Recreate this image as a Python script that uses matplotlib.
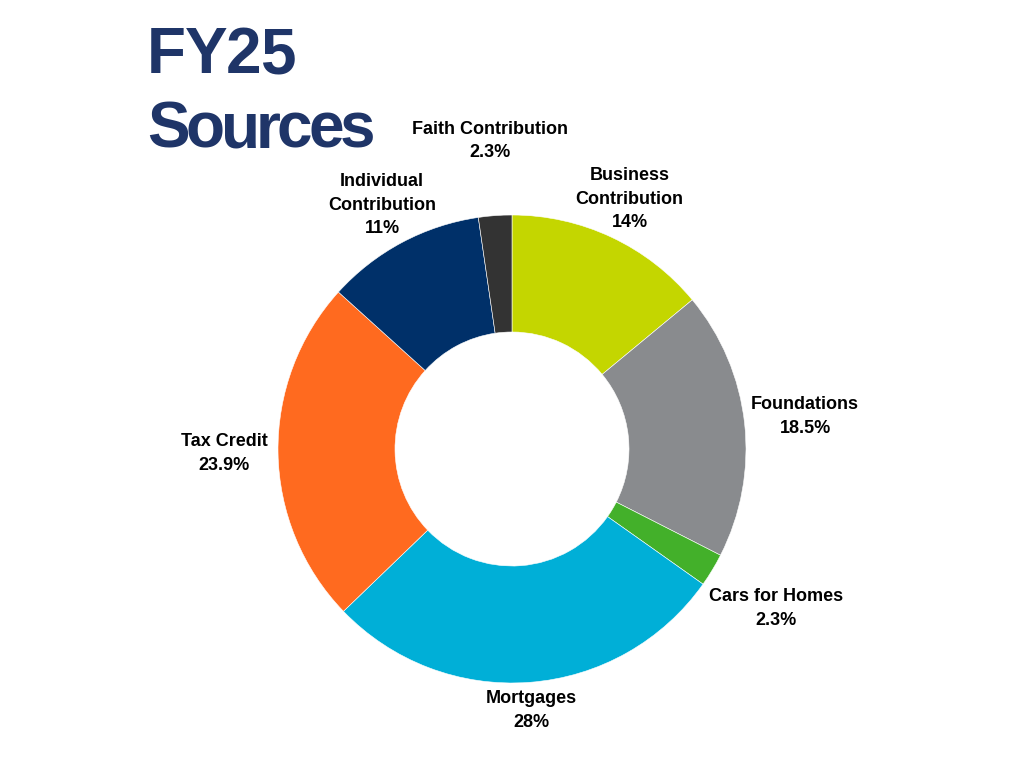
import numpy as np
import matplotlib
matplotlib.use('Agg')
import matplotlib.pyplot as plt

# FY25 sources, clockwise from 12 o'clock
categorias = ['Business\nContribution', 'Foundations', 'Cars for Homes', 'Mortgages',
              'Tax Credit', 'Individual\nContribution', 'Faith Contribution']
valores = [14, 18.5, 2.3, 28, 23.9, 11, 2.3]
rotulos_valor = ['14%', '18.5%', '2.3%', '28%', '23.9%', '11%', '2.3%']
cores = ['#C4D600', '#898B8E', '#43B02A', '#00AFD7', '#FF6A1F', '#003069', '#333333']
# distance of each label from the centre, in units of the radius
dist_rotulo = [1.18, 1.26, 1.32, 1.12, 1.23, 1.18, 1.32]

plt.rcParams['font.family'] = ['Liberation Sans', 'DejaVu Sans']


def texto_apertado(fig, x_px, y_px, texto, track, **kw):
    """Escreve o texto letra a letra com espaçamento reduzido (track em px)."""
    renderer = fig.canvas.get_renderer()
    H = fig.bbox.height
    W = fig.bbox.width
    for i, letra in enumerate(texto):
        if i > 0:
            tmp = fig.text(0, 0, texto[:i], **kw)
            larg = tmp.get_window_extent(renderer).width
            tmp.remove()
        else:
            larg = 0
        fig.text((x_px + larg + i * track) / W, 1 - y_px / H, letra,
                 ha='left', va='baseline', **kw)


fig = plt.figure(figsize=(10.24, 7.68), dpi=100)
ax = fig.add_axes([0, 0, 1, 1])

fatias, _ = ax.pie(valores, colors=cores, startangle=90, counterclock=False,
                   radius=1, wedgeprops=dict(width=0.5, edgecolor='white', linewidth=0.4))

for fatia, nome, rot, d in zip(fatias, categorias, rotulos_valor, dist_rotulo):
    ang = np.deg2rad((fatia.theta1 + fatia.theta2) / 2)
    ax.text(d * np.cos(ang), d * np.sin(ang), f'{nome}\n{rot}',
            ha='center', va='center', fontsize=13, fontweight='bold',
            color='black', linespacing=1.5)

# centre at (512, 449) px, radius 234 px
esc = 234
ax.set_xlim(-512 / esc, 512 / esc)
ax.set_ylim(-(768 - 449) / esc, 449 / esc)
ax.set_aspect('auto')
ax.axis('off')

estilo_titulo = dict(fontsize=46, fontweight='bold', color='#1F3568')
texto_apertado(fig, 147, 73, 'FY25', -1.5, **estilo_titulo)
texto_apertado(fig, 147, 148, 'Sources', -4, **estilo_titulo)

fig.savefig('out.png', dpi=100, facecolor='white')
